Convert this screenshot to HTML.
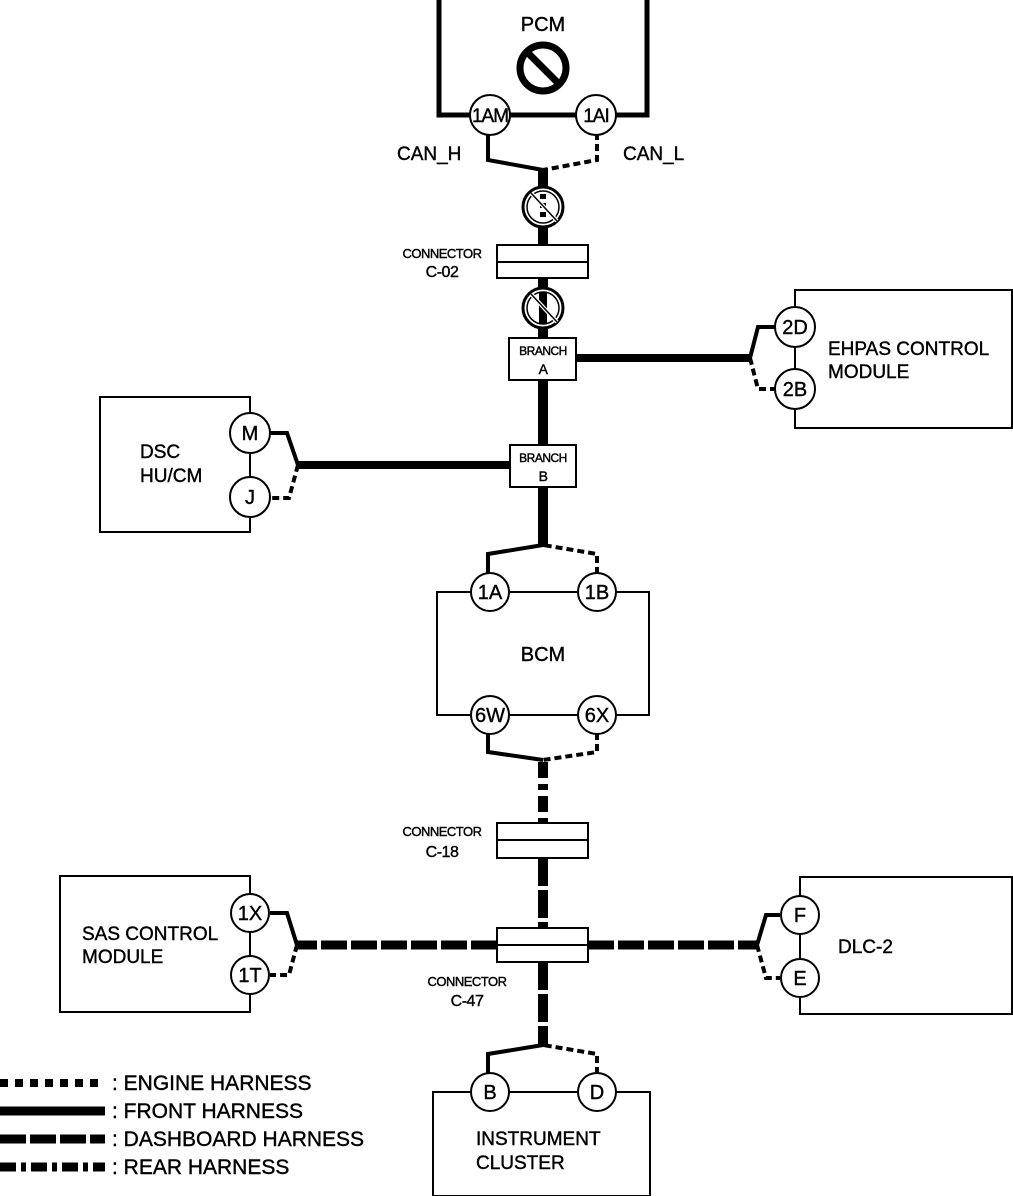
<!DOCTYPE html>
<html><head><meta charset="utf-8"><style>
html,body{margin:0;padding:0;background:#fff;}
svg{display:block;}
text{font-family:"Liberation Sans",Arial,sans-serif;fill:#000;stroke:#000;stroke-width:0.4;}
</style></head><body>
<svg width="1013" height="1196" viewBox="0 0 1013 1196" xmlns="http://www.w3.org/2000/svg">
<g fill="none" stroke="#000">
<rect x="439" y="-5" width="208" height="120" stroke-width="5"/>
<polyline points="488,133 488,160 543,170" stroke-width="4"/>
<polyline points="597,133 597,160 543,170" stroke-width="4" stroke-dasharray="7,4"/>
<line x1="543" y1="168" x2="543" y2="187" stroke-width="10"/>
<line x1="543" y1="227" x2="543" y2="245" stroke-width="10"/>
<line x1="543" y1="278" x2="543" y2="338" stroke-width="10"/>
<line x1="576" y1="358" x2="750" y2="358" stroke-width="8"/>
<polyline points="750,358 758,327 775,327" stroke-width="4"/>
<polyline points="750,358 758,389 775,389" stroke-width="4" stroke-dasharray="7,4"/>
<line x1="543" y1="380" x2="543" y2="445" stroke-width="10"/>
<line x1="510" y1="465" x2="298" y2="465" stroke-width="8"/>
<polyline points="298,465 287,433 270,433" stroke-width="4"/>
<polyline points="298,465 289,498 270,498" stroke-width="4" stroke-dasharray="7,4"/>
<line x1="543" y1="487" x2="543" y2="547" stroke-width="10"/>
<polyline points="488,574 488,554 543,545" stroke-width="4"/>
<polyline points="597,574 597,554 543,545" stroke-width="4" stroke-dasharray="7,4"/>
<rect x="437" y="592" width="212" height="123" stroke-width="2"/>
<polyline points="488,733 488,752 543,760" stroke-width="4"/>
<polyline points="597,733 597,752 543,760" stroke-width="4" stroke-dasharray="7,4"/>
<line x1="543" y1="762" x2="543" y2="823" stroke-width="10" stroke-dasharray="16,6,6,6"/>
<line x1="543" y1="858" x2="543" y2="928" stroke-width="10" stroke-dasharray="28,4"/>
<line x1="543" y1="962" x2="543" y2="1047" stroke-width="10" stroke-dasharray="28,4"/>
<polyline points="488,1074 488,1054 543,1045" stroke-width="4"/>
<polyline points="597,1074 597,1054 543,1045" stroke-width="4" stroke-dasharray="7,4"/>
<line x1="497" y1="945" x2="297" y2="945" stroke-width="9" stroke-dasharray="26,4"/>
<polyline points="297,945 287,913 270,913" stroke-width="4"/>
<polyline points="297,945 289,975 270,975" stroke-width="4" stroke-dasharray="7,4"/>
<line x1="588" y1="945" x2="757" y2="945" stroke-width="9" stroke-dasharray="26,4"/>
<polyline points="757,945 766,915 780,915" stroke-width="4"/>
<polyline points="757,945 766,978 780,978" stroke-width="4" stroke-dasharray="7,4"/>
<rect x="795" y="290" width="217" height="138" stroke-width="2"/>
<rect x="100" y="397" width="150" height="135" stroke-width="2"/>
<rect x="60" y="876" width="190" height="136" stroke-width="2"/>
<rect x="800" y="877" width="212" height="137" stroke-width="2"/>
<rect x="433" y="1092" width="217" height="104" stroke-width="2"/>
<rect x="497" y="245" width="91" height="33" fill="#fff" stroke-width="2"/>
<line x1="497" y1="262" x2="588" y2="262" stroke-width="2"/>
<rect x="497" y="823" width="91" height="35" fill="#fff" stroke-width="2"/>
<line x1="497" y1="840" x2="588" y2="840" stroke-width="2"/>
<rect x="497" y="928" width="91" height="34" fill="#fff" stroke-width="2"/>
<line x1="497" y1="945" x2="588" y2="945" stroke-width="2"/>
<rect x="509" y="338" width="67" height="42" fill="#fff" stroke-width="2"/>
<rect x="510" y="445" width="66" height="42" fill="#fff" stroke-width="2"/>
<circle cx="543" cy="68" r="23" stroke-width="7"/>
<line x1="528" y1="53" x2="558" y2="83" stroke-width="7"/>
<circle cx="543" cy="207" r="20" stroke-width="3" fill="#fff"/>
<circle cx="543" cy="207" r="16" stroke-width="1.5"/>
<line x1="543" y1="194" x2="543" y2="220" stroke-width="6" stroke-dasharray="5,4"/>
<line x1="531" y1="193" x2="557" y2="221" stroke-width="4" stroke="#fff"/>
<line x1="531" y1="193" x2="557" y2="221" stroke-width="1.5"/>
<circle cx="543" cy="308" r="20" stroke-width="3" fill="#fff"/>
<circle cx="543" cy="308" r="16" stroke-width="1.5"/>
<line x1="543" y1="292" x2="543" y2="324" stroke-width="8"/>
<line x1="531" y1="294" x2="557" y2="322" stroke-width="4" stroke="#fff"/>
<line x1="531" y1="294" x2="557" y2="322" stroke-width="1.5"/>
<g fill="#fff" stroke-width="2">
<circle cx="490" cy="115" r="20"/><circle cx="596" cy="115" r="20"/>
<circle cx="795" cy="327" r="20"/><circle cx="795" cy="389" r="20"/>
<circle cx="250" cy="433" r="20"/><circle cx="250" cy="497" r="20"/>
<circle cx="490" cy="592" r="19"/><circle cx="597" cy="592" r="19"/>
<circle cx="490" cy="715" r="19"/><circle cx="597" cy="715" r="19"/>
<circle cx="250" cy="913" r="19"/><circle cx="250" cy="975" r="19"/>
<circle cx="800" cy="915" r="19"/><circle cx="800" cy="978" r="19"/>
<circle cx="490" cy="1092" r="19"/><circle cx="597" cy="1092" r="19"/>
</g>
<line x1="0" y1="1083" x2="100" y2="1083" stroke-width="8" stroke-dasharray="8,7"/>
<line x1="0" y1="1111" x2="105" y2="1111" stroke-width="9"/>
<line x1="0" y1="1139" x2="105" y2="1139" stroke-width="9" stroke-dasharray="26,4"/>
<line x1="0" y1="1167" x2="105" y2="1167" stroke-width="9" stroke-dasharray="16,5,5,5"/>
</g>
<g font-size="20" text-anchor="middle">
<text x="543" y="31">PCM</text>
<g font-size="19" letter-spacing="-1">
<text x="490" y="122">1AM</text><text x="596" y="122">1AI</text>
</g>
<text x="795" y="334">2D</text><text x="795" y="396">2B</text>
<text x="250" y="440">M</text><text x="250" y="504">J</text>
<text x="490" y="599">1A</text><text x="597" y="599">1B</text>
<text x="490" y="722">6W</text><text x="597" y="722">6X</text>
<text x="250" y="920">1X</text><text x="250" y="982">1T</text>
<text x="800" y="922">F</text><text x="800" y="985">E</text>
<text x="490" y="1099">B</text><text x="597" y="1099">D</text>
<text x="543" y="661">BCM</text>
</g>
<g font-size="19">
<text x="397" y="160">CAN_H</text><text x="623" y="160">CAN_L</text>
<text x="828" y="355">EHPAS CONTROL</text><text x="828" y="378">MODULE</text>
<text x="140" y="458">DSC</text><text x="140" y="482">HU/CM</text>
<text x="82" y="940">SAS CONTROL</text><text x="82" y="963">MODULE</text>
<text x="838" y="953">DLC-2</text>
<text x="476" y="1145">INSTRUMENT</text><text x="476" y="1169">CLUSTER</text>
</g>
<g font-size="21">
<text x="112" y="1090">: ENGINE HARNESS</text>
<text x="112" y="1118">: FRONT HARNESS</text>
<text x="112" y="1146">: DASHBOARD HARNESS</text>
<text x="112" y="1174">: REAR HARNESS</text>
</g>
<g font-size="13" text-anchor="middle" letter-spacing="-0.5">
<text x="442" y="258">CONNECTOR</text><text x="442" y="277" font-size="16">C-02</text>
<text x="442" y="836">CONNECTOR</text><text x="442" y="857" font-size="16">C-18</text>
<text x="467" y="986">CONNECTOR</text><text x="467" y="1006" font-size="16">C-47</text>
<text x="543" y="355" font-size="12">BRANCH</text><text x="543" y="374" font-size="14">A</text>
<text x="543" y="462" font-size="12">BRANCH</text><text x="543" y="481" font-size="14">B</text>
</g>
</svg>
</body></html>
